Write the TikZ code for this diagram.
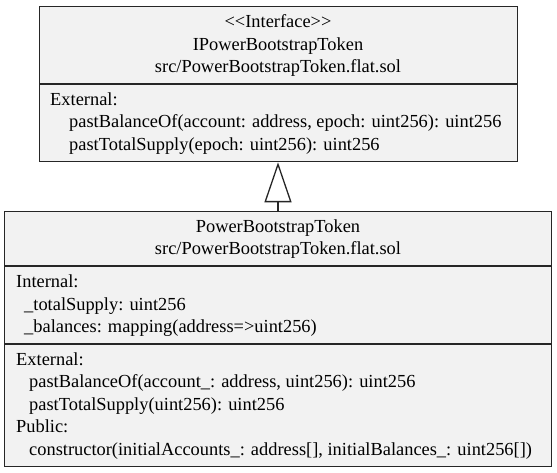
\documentclass[tikz,border=0pt]{standalone}
\usepackage{fontspec}
\setmainfont{Liberation Serif}
\usetikzlibrary{arrows.meta}

\definecolor{boxfill}{HTML}{F2F2F2}
\definecolor{boxline}{HTML}{262626}

\tikzset{
  umlbox/.style={draw=boxline, fill=boxfill, line width=1.3pt, rectangle,
    inner sep=0pt, anchor=north west},
  divider/.style={draw=boxline, line width=1.3pt},
  label/.style={inner sep=0pt, anchor=base west, text=black,
    font=\fontsize{18.4}{22.4}\selectfont},
  title/.style={label, anchor=base},
  realize/.style={draw=boxline, line width=1.3pt,
    -{Triangle[open, length=40pt, width=27pt, line width=1.3pt]}},
}

\begin{document}
\begin{tikzpicture}[x=1pt, y=-1pt]
  \useasboundingbox (0,0) rectangle (557,473);

  % interface box
  \node[umlbox, minimum width=478pt, minimum height=155pt] (iface) at (39,6) {};
  \draw[divider] (iface.west |- 0,84) -- (iface.east |- 0,84);
  \node[title] (ifstereo) at (278,27.8) {<{}<Interface>{}>};
  \node[title] (ifname) at (278,50.2) {IPowerBootstrapToken};
  \node[title] (iffile) at (278,72.6) {src/PowerBootstrapToken.flat.sol};
  \node[label] (ifext) at (50,105.3) {External:};
  \node[label] (ifbal) at (69,127.7) {pastBalanceOf(account: address, epoch: uint256): uint256};
  \node[label] (ifsup) at (69,150.1) {pastTotalSupply(epoch: uint256): uint256};

  % contract box
  \node[umlbox, minimum width=547pt, minimum height=255pt] (token) at (4,211) {};
  \draw[divider] (token.west |- 0,266) -- (token.east |- 0,266);
  \draw[divider] (token.west |- 0,344) -- (token.east |- 0,344);
  \node[title] (tkname) at (278,232.5) {PowerBootstrapToken};
  \node[title] (tkfile) at (278,254.9) {src/PowerBootstrapToken.flat.sol};
  \node[label] (tkint) at (16,287.8) {Internal:};
  \node[label] (tksupvar) at (24,310.2) {\_totalSupply: uint256};
  \node[label] (tkbalvar) at (24,332.6) {\_balances: mapping(address=>uint256)};
  \node[label] (tkext) at (16,365.4) {External:};
  \node[label] (tkbal) at (29,387.8) {pastBalanceOf(account\_: address, uint256): uint256};
  \node[label] (tksup) at (29,410.2) {pastTotalSupply(uint256): uint256};
  \node[label] (tkpub) at (16,432.6) {Public:};
  \node[label] (tkctor) at (29,455) {constructor(initialAccounts\_: address[], initialBalances\_: uint256[])};

  % realization of the interface
  \draw[realize] (token.north -| 278,0) -- (iface.south -| 278,0);
\end{tikzpicture}
\end{document}
